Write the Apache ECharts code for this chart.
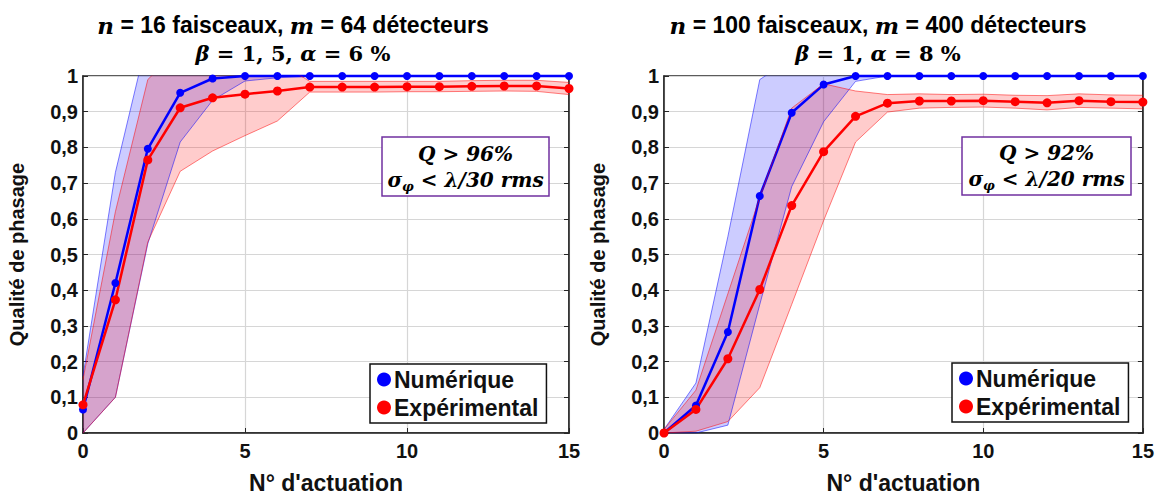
<!DOCTYPE html>
<html>
<head>
<meta charset="utf-8">
<script src="https://cdn.jsdelivr.net/npm/echarts@6/dist/echarts.min.js"></script>
<style>
html,body{margin:0;padding:0;background:#fff;}
#c{width:1157px;height:499px;}
</style>
</head>
<body>
<div id="c"></div>
<script>
// ---- data ----
const steps = [0,1,2,3,4,5,6,7,8,9,10,11,12,13,14,15];
const xTickLabels = ['0','5','10','15'];
const seriesNames = ['Numérique','Expérimental'];

// Left chart: n = 16, m = 64
const numMeanA = [0.066,0.42,0.796,0.953,0.993,1,1,1,1,1,1,1,1,1,1,1];
const numLowA  = [0,0.10,0.53,0.815,0.932,0.986,0.995,1,1,1,1,1,1,1,1,1];
const numHighA = [0.16,0.73,1.11,1.1,1.06,1.03,1.01,1,1,1,1,1,1,1,1,1];
const expMeanA = [0.079,0.373,0.765,0.911,0.939,0.949,0.958,0.969,0.969,0.969,0.97,0.97,0.971,0.972,0.972,0.965];
const expLowA  = [0,0.10,0.535,0.733,0.79,0.833,0.874,0.955,0.955,0.955,0.956,0.956,0.957,0.958,0.957,0.948];
const expHighA = [0.15,0.62,0.99,1.08,1.08,1.06,1.04,0.985,0.985,0.985,0.985,0.985,0.987,0.988,0.988,0.982];

// Right chart: n = 100, m = 400
const numMeanB = [0,0.077,0.283,0.664,0.897,0.976,1,1,1,1,1,1,1,1,1,1];
const numLowB  = [0,0,0.022,0.36,0.69,0.872,0.985,1,1,1,1,1,1,1,1,1];
const numHighB = [0.01,0.14,0.55,0.99,1.05,1.05,1.02,1,1,1,1,1,1,1,1,1];
const expMeanB = [0,0.066,0.208,0.402,0.637,0.788,0.887,0.924,0.93,0.93,0.931,0.928,0.925,0.931,0.928,0.927];
const expLowB  = [0,0.005,0.032,0.127,0.36,0.595,0.815,0.899,0.91,0.912,0.913,0.91,0.905,0.912,0.91,0.908];
const expHighB = [0.01,0.12,0.39,0.66,0.91,0.978,0.958,0.948,0.95,0.948,0.949,0.946,0.945,0.95,0.947,0.946];

// ---- styling helpers ----
const SANS = '"Liberation Sans", Arial, sans-serif';
const SERIF = '"DejaVu Serif", "Liberation Serif", serif';
const BLUE = '#0000ff', RED = '#ff0000', PURPLE = '#7030A0';

function diff(hi, lo){ return hi.map((v,i)=>v - lo[i]); }

function bandSeries(gi, lo, hi, color, fill, key){
  return [
    {type:'line', name:key+'lo', xAxisIndex:gi, yAxisIndex:gi*2, stack:key, data:lo,
     symbol:'none', silent:true, lineStyle:{color:color, width:1, opacity:0.5}, clip:true},
    {type:'line', name:key+'hi', xAxisIndex:gi, yAxisIndex:gi*2, stack:key, data:diff(hi,lo),
     symbol:'none', silent:true, lineStyle:{color:color, width:1, opacity:0.5},
     areaStyle:{color:fill, opacity:1}, clip:true}
  ];
}
function meanSeries(gi, vals, color, name, size){
  return {type:'line', name:name, xAxisIndex:gi, yAxisIndex:gi*2, data:vals,
    symbol:'circle', symbolSize:size, itemStyle:{color:color}, lineStyle:{color:color, width:2.5}, clip:false};
}

const grids = [
  {left:83, top:76, width:486, height:370},
  {left:664, top:76, width:486, height:369}
];

function xAxis(gi){
  return {type:'category', gridIndex:gi, data:steps.map(String), boundaryGap:false,
    name:"N° d'actuation", nameLocation:'middle', nameGap:38,
    nameTextStyle:{fontFamily:SANS, fontWeight:'bold', fontSize:23, color:'#111'},
    axisLine:{show:true, onZero:false, lineStyle:{color:'#262626', width:1.5}},
    axisTick:{show:true, inside:true, length:5, interval:4, lineStyle:{color:'#262626'}},
    axisLabel:{fontFamily:SANS, fontWeight:'bold', fontSize:20, color:'#111', margin:8, interval:4,
      formatter:(v)=> xTickLabels.indexOf(v) >= 0 ? v : ''},
    splitLine:{show:true, interval:4, lineStyle:{color:'#d6d6d6', width:1.2}}};
}
function yAxisL(gi){
  return {type:'value', gridIndex:gi, min:0, max:1, interval:0.1, position:'left',
    name:'Qualité de phasage', nameLocation:'middle', nameGap:56, nameRotate:90,
    nameTextStyle:{fontFamily:SANS, fontWeight:'bold', fontSize:20, color:'#111'},
    axisLine:{show:true, lineStyle:{color:'#262626', width:1.5}},
    axisTick:{show:true, inside:true, length:5, lineStyle:{color:'#262626'}},
    axisLabel:{fontFamily:SANS, fontWeight:'bold', fontSize:20, color:'#111', margin:5,
      formatter:(v)=>{ if (Math.abs(v)<1e-9) return '0'; if (Math.abs(v-1)<1e-9) return '1'; return v.toFixed(1).replace('.',','); }},
    splitLine:{show:true, lineStyle:{color:'#d6d6d6', width:1.2}}};
}
function yAxisR(gi){
  return {type:'value', gridIndex:gi, min:0, max:1, interval:0.1, position:'right',
    axisLine:{show:true, lineStyle:{color:'#262626', width:1.5}},
    axisTick:{show:true, inside:true, length:5, lineStyle:{color:'#262626'}},
    axisLabel:{show:false}, splitLine:{show:false}};
}

const titleRich = {
  mi:{fontFamily:SERIF, fontStyle:'italic', fontWeight:'bold', fontSize:23, color:'#111'},
  s:{fontFamily:SANS, fontWeight:'bold', fontSize:23, color:'#111'},
  mi2:{fontFamily:SERIF, fontStyle:'italic', fontWeight:'bold', fontSize:21, color:'#111'},
  ms:{fontFamily:SERIF, fontWeight:'bold', fontSize:21, color:'#111'}
};
const boxRich = {
  q:{fontFamily:SERIF, fontStyle:'italic', fontWeight:'bold', fontSize:20, color:PURPLE, lineHeight:26},
  s:{fontFamily:SERIF, fontStyle:'italic', fontWeight:'bold', fontSize:20, color:PURPLE, lineHeight:26},
  sub:{fontFamily:SERIF, fontStyle:'italic', fontWeight:'bold', fontSize:13, color:PURPLE, verticalAlign:'bottom', padding:[8,0,0,0]}
};

function titleGraphics(cx, l1, l2){
  return [
    {type:'text', x:cx, y:25, z:100, style:{text:l1, rich:titleRich, align:'center', verticalAlign:'middle'}},
    {type:'text', x:cx, y:53, z:100, style:{text:l2, rich:titleRich, align:'center', verticalAlign:'middle'}}
  ];
}
function boxGraphics(x, y, w, h, q, lam){
  return [
    {type:'rect', z:100, shape:{x:x, y:y, width:w, height:h}, style:{fill:'#fff', stroke:PURPLE, lineWidth:1.5}},
    {type:'text', z:101, x:x+w/2, y:y+h/2, style:{text:'{q|Q > '+q+'%}\n{s|σ}{sub|φ}{s| < λ/'+lam+' rms}', rich:boxRich, align:'center', verticalAlign:'middle'}}
  ];
}

function legendCfg(left, top){
  return {data:seriesNames, orient:'vertical', left:left, top:top, icon:'circle',
    itemWidth:14, itemHeight:14, itemGap:5, padding:[4,8,4,7],
    backgroundColor:'#fff', borderColor:'#111', borderWidth:1.5,
    textStyle:{fontFamily:SANS, fontWeight:'bold', fontSize:23, color:'#111', padding:[0,0,0,-2]},
    selectedMode:false, z:50};
}

const option = {
  animation:false,
  backgroundColor:'#fff',
  grid: grids.map(g=>Object.assign({show:true, borderColor:'#262626', borderWidth:1.5, backgroundColor:'#fff'}, g)),
  xAxis:[xAxis(0), xAxis(1)],
  yAxis:[yAxisL(0), yAxisR(0), yAxisL(1), yAxisR(1)],
  legend:[legendCfg(370,364), legendCfg(952,363)],
  series:[].concat(
    bandSeries(0, numLowA, numHighA, BLUE, 'rgba(0,0,255,0.2)', 'nA'),
    [meanSeries(0, numMeanA, BLUE, seriesNames[0], 8)],
    bandSeries(0, expLowA, expHighA, RED, 'rgba(255,0,0,0.2)', 'eA'),
    [meanSeries(0, expMeanA, RED, seriesNames[1], 9)],
    bandSeries(1, numLowB, numHighB, BLUE, 'rgba(0,0,255,0.2)', 'nB'),
    [meanSeries(1, numMeanB, BLUE, seriesNames[0], 8)],
    bandSeries(1, expLowB, expHighB, RED, 'rgba(255,0,0,0.2)', 'eB'),
    [meanSeries(1, expMeanB, RED, seriesNames[1], 9)]
  ),
  graphic:[].concat(
    titleGraphics(293, '{mi|n}{s| = 16 faisceaux, }{mi|m}{s| = 64 détecteurs}', '{mi2|β}{ms| = 1, 5, }{mi2|α}{ms| = 6 %}'),
    titleGraphics(878, '{mi|n}{s| = 100 faisceaux, }{mi|m}{s| = 400 détecteurs}', '{mi2|β}{ms| = 1, }{mi2|α}{ms| = 8 %}'),
    boxGraphics(382, 137, 167, 59, 96, 30),
    boxGraphics(962, 137, 169, 58, 92, 20)
  )
};

const chart = echarts.init(document.getElementById('c'), null, {renderer:'svg'});
chart.setOption(option);
</script>
</body>
</html>
